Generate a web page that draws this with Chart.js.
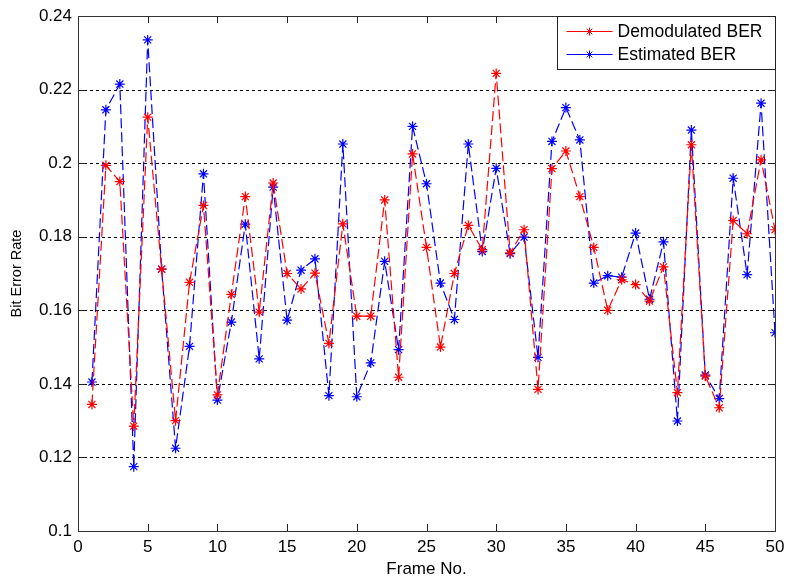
<!DOCTYPE html>
<html>
<head>
<meta charset="utf-8">
<script src="https://cdn.jsdelivr.net/npm/chart.js@4/dist/chart.umd.min.js"></script>
<style>
  html, body { margin: 0; padding: 0; background: #fff; }
  #wrap { width: 787px; height: 580px; }
</style>
</head>
<body>
<div id="wrap"><canvas id="berChart" width="787" height="580"></canvas></div>
<script>
// values
var frames = [];
for (var f = 1; f <= 50; f++) frames.push(f);

var demodulatedBER = [
    0.1344, 0.1994, 0.1950, 0.1285, 0.2125, 0.1712, 0.1300, 0.1676, 0.1885, 0.1370,
    0.1643, 0.1909, 0.1595, 0.1946, 0.1700, 0.1658, 0.1701, 0.1510, 0.1835, 0.1584,
    0.1584, 0.1900, 0.1418, 0.2025, 0.1771, 0.1500, 0.1700, 0.1831, 0.1765, 0.2244,
    0.1756, 0.1819, 0.1385, 0.1985, 0.2033, 0.1909, 0.1771, 0.1600, 0.1683, 0.1670,
    0.1625, 0.1718, 0.1376, 0.2050, 0.1421, 0.1335, 0.1844, 0.1808, 0.2009, 0.1819
];
var estimatedBER = [
    0.1405, 0.2145, 0.2215, 0.1175, 0.2335, 0.1712, 0.1225, 0.1502, 0.1971, 0.1356,
    0.1568, 0.1834, 0.1468, 0.1935, 0.1573, 0.1709, 0.1740, 0.1368, 0.2052, 0.1365,
    0.1457, 0.1733, 0.1493, 0.2100, 0.1944, 0.1674, 0.1575, 0.2052, 0.1760, 0.1986,
    0.1754, 0.1799, 0.1472, 0.2059, 0.2151, 0.2063, 0.1674, 0.1694, 0.1690, 0.1810,
    0.1630, 0.1786, 0.1299, 0.2090, 0.1424, 0.1360, 0.1959, 0.1697, 0.2163, 0.1539
];
var xTicks = [0, 5, 10, 15, 20, 25, 30, 35, 40, 45, 50];
var yTicks = ['0.1', '0.12', '0.14', '0.16', '0.18', '0.2', '0.22', '0.24'];
var seriesNames = ['Demodulated BER', 'Estimated BER'];

function toPoints(ys) {
    return frames.map(function (x, i) { return { x: x, y: ys[i] }; });
}

var FONT = '"Liberation Sans", Arial, sans-serif';

// frame box, dashed grid and inward ticks like a matlab axes
var axesBox = {
    id: 'axesBox',
    beforeDatasetsDraw: function (chart) {
        var ctx = chart.ctx, a = chart.chartArea;
        var xs = chart.scales.x, ys = chart.scales.y;
        ctx.save();
        ctx.strokeStyle = '#000';
        ctx.lineWidth = 1;
        ctx.setLineDash([3, 3]);
        yTicks.forEach(function (t) {
            var v = parseFloat(t);
            if (v <= 0.1 || v >= 0.24) return;
            var py = Math.round(ys.getPixelForValue(v)) + 0.5;
            ctx.beginPath();
            ctx.moveTo(a.left, py);
            ctx.lineTo(a.right, py);
            ctx.stroke();
        });
        ctx.setLineDash([]);
        ctx.strokeStyle = '#222';
        xTicks.forEach(function (v) {
            var px = Math.round(xs.getPixelForValue(v)) + 0.5;
            ctx.beginPath();
            ctx.moveTo(px, a.bottom); ctx.lineTo(px, a.bottom - 7);
            ctx.moveTo(px, a.top); ctx.lineTo(px, a.top + 7);
            ctx.stroke();
        });
        yTicks.forEach(function (t) {
            var py = Math.round(ys.getPixelForValue(parseFloat(t))) + 0.5;
            ctx.beginPath();
            ctx.moveTo(a.left, py); ctx.lineTo(a.left + 7, py);
            ctx.moveTo(a.right, py); ctx.lineTo(a.right - 7, py);
            ctx.stroke();
        });
        ctx.strokeStyle = '#333';
        ctx.strokeRect(Math.round(a.left) + 0.5, Math.round(a.top) + 0.5,
            Math.round(a.right - a.left), Math.round(a.bottom - a.top));
        ctx.restore();
    }
};

// boxed legend in the upper right corner
var boxLegend = {
    id: 'boxLegend',
    afterDatasetsDraw: function (chart) {
        var ctx = chart.ctx, a = chart.chartArea;
        var w = 218, h = 53;
        var x0 = Math.round(a.right - w) + 0.5, y0 = Math.round(a.top) + 0.5;
        ctx.save();
        ctx.fillStyle = '#fff';
        ctx.fillRect(x0, y0, w, h);
        ctx.strokeStyle = '#222';
        ctx.lineWidth = 1;
        ctx.strokeRect(x0, y0, w, h);
        ctx.font = '17.5px ' + FONT;
        ctx.textBaseline = 'middle';
        chart.data.datasets.forEach(function (ds, i) {
            var cy = y0 + 15 + i * 23;
            ctx.strokeStyle = ds.borderColor;
            ctx.fillStyle = ds.borderColor;
            ctx.lineWidth = 1;
            ctx.beginPath();
            ctx.moveTo(x0 + 9, cy);
            ctx.lineTo(x0 + 55, cy);
            ctx.stroke();
            Chart.helpers.drawPoint(ctx, { pointStyle: 'star', radius: 4, borderWidth: 1 }, x0 + 32, cy);
            ctx.fillStyle = '#000';
            ctx.fillText(ds.label, x0 + 60, cy + 1);
        });
        ctx.restore();
    }
};

var ctx = document.getElementById('berChart').getContext('2d');
var berChart = new Chart(ctx, {
    type: 'line',
    data: {
        datasets: [
            {
                label: seriesNames[0],
                data: toPoints(demodulatedBER),
                borderColor: '#ff0000',
                backgroundColor: '#ff0000',
                borderWidth: 1.2,
                borderDash: [10, 4],
                pointStyle: 'star',
                pointRadius: 5,
                pointBorderWidth: 1.2,
                fill: false,
                tension: 0
            },
            {
                label: seriesNames[1],
                data: toPoints(estimatedBER),
                borderColor: '#0000ff',
                backgroundColor: '#0000ff',
                borderWidth: 1.2,
                borderDash: [10, 4],
                pointStyle: 'star',
                pointRadius: 5,
                pointBorderWidth: 1.2,
                fill: false,
                tension: 0
            }
        ]
    },
    options: {
        responsive: false,
        animation: false,
        layout: { padding: { top: 16, right: 12, left: 0, bottom: 0 } },
        plugins: {
            legend: { display: false },
            tooltip: { enabled: false }
        },
        scales: {
            x: {
                type: 'linear',
                min: 0,
                max: 50,
                afterBuildTicks: function (s) { s.ticks = xTicks.map(function (v) { return { value: v }; }); },
                afterFit: function (s) { s.height = 49; s.paddingLeft = 0; s.paddingRight = 0; },
                grid: { display: false, drawTicks: false },
                border: { display: false },
                ticks: { color: '#000', font: { family: FONT, size: 17 }, padding: 6, maxRotation: 0 },
                title: { display: true, text: 'Frame No.', color: '#000', font: { family: FONT, size: 17 }, padding: { top: 0, bottom: 0 } }
            },
            y: {
                type: 'linear',
                min: 0.1,
                max: 0.24,
                afterBuildTicks: function (s) { s.ticks = yTicks.map(function (t) { return { value: parseFloat(t) }; }); },
                afterFit: function (s) { s.width = 78; s.paddingTop = 0; s.paddingBottom = 0; },
                grid: { display: false, drawTicks: false },
                border: { display: false },
                ticks: {
                    color: '#000',
                    font: { family: FONT, size: 17 },
                    padding: 6,
                    callback: function (v) { return yTicks[Math.round((v - 0.1) / 0.02)]; }
                },
                title: { display: true, text: 'Bit Error Rate', color: '#000', font: { family: FONT, size: 14.5 }, padding: { top: 8, bottom: 0 } }
            }
        }
    },
    plugins: [axesBox, boxLegend]
});
</script>
</body>
</html>
